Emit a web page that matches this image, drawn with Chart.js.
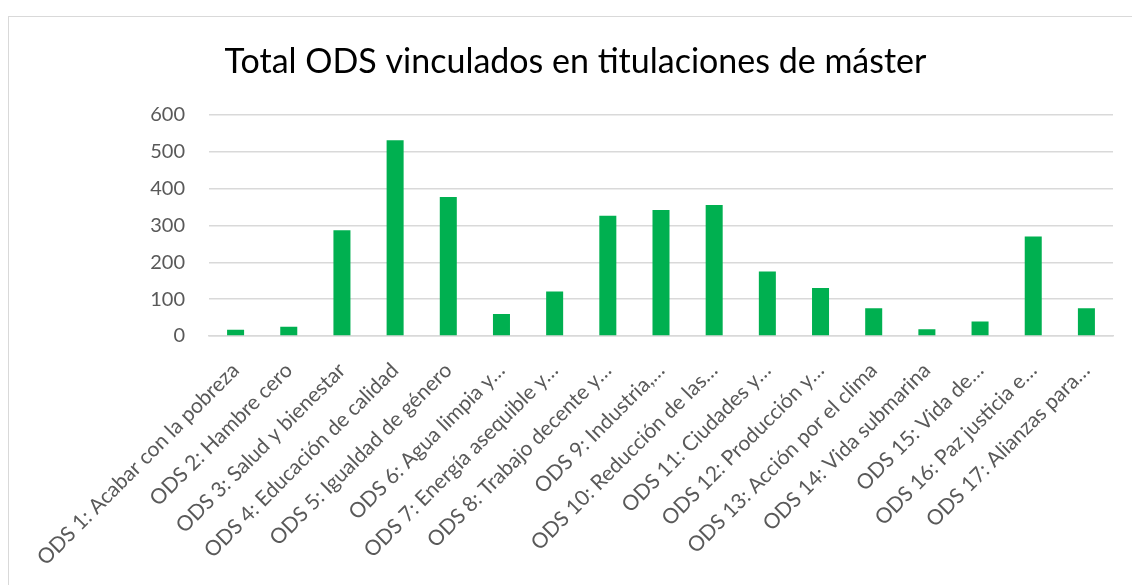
<!DOCTYPE html>
<html>
<head>
<meta charset="utf-8">
<script src="https://cdn.jsdelivr.net/npm/chart.js@4"></script>
<style>
  html, body { margin: 0; padding: 0; background: #fff; overflow: hidden; }
  #marco { position: absolute; left: 8px; top: 16px; width: 2000px; height: 2000px; border: 1px solid #d9d9d9; }
  #lienzo { position: absolute; left: 0; top: 0; width: 1132px; height: 585px; }
</style>
</head>
<body>
<div id="marco"></div>
<div id="lienzo"><canvas id="grafico" width="1132" height="585"></canvas></div>
<script>
const categorias = [
    "ODS 1: Acabar con la pobreza",
    "ODS 2: Hambre cero",
    "ODS 3: Salud y bienestar",
    "ODS 4: Educación de calidad",
    "ODS 5: Igualdad de género",
    "ODS 6: Agua limpia y…",
    "ODS 7: Energía asequible y…",
    "ODS 8: Trabajo decente y…",
    "ODS 9: Industria,…",
    "ODS 10: Reducción de las…",
    "ODS 11: Ciudades y…",
    "ODS 12: Producción y…",
    "ODS 13: Acción por el clima",
    "ODS 14: Vida submarina",
    "ODS 15: Vida de…",
    "ODS 16: Paz justicia e…",
    "ODS 17: Alianzas para…"];
const totales = [17, 25, 287, 531, 377, 60, 121, 326, 342, 355, 175, 130, 75, 18, 39, 270, 75];
const marcasY = [0, 100, 200, 300, 400, 500, 600];

const gris = '#595959';
const fuente = 'Lato, "Open Sans", sans-serif';

document.addEventListener('DOMContentLoaded', function() {
    const ctx = document.getElementById('grafico').getContext('2d');
    new Chart(ctx, {
        type: 'bar',
        data: {
            labels: categorias,
            datasets: [{
                label: 'Total',
                data: totales,
                backgroundColor: '#00B050',
                borderWidth: 0,
                categoryPercentage: 1,
                barPercentage: 0.32
            }]
        },
        options: {
            responsive: false,
            animation: false,
            layout: { padding: { left: 38, right: 19, top: 0, bottom: 0 } },
            plugins: {
                legend: { display: false },
                tooltip: { enabled: false },
                title: {
                    display: true,
                    text: 'Total ODS vinculados en titulaciones de máster',
                    color: '#000',
                    font: { family: fuente, size: 34, weight: 'normal' },
                    padding: { top: 42, bottom: 32 }
                }
            },
            scales: {
                x: {
                    grid: { display: false },
                    border: { color: '#d9d9d9', width: 1.5 },
                    ticks: {
                        color: gris,
                        font: { family: fuente, size: 21 },
                        autoSkip: false,
                        maxRotation: 45,
                        minRotation: 45,
                        padding: 14,
                        labelOffset: 0
                    },
                    afterFit: function(scale) { scale.height = 249; }
                },
                y: {
                    min: 0,
                    max: 600,
                    afterBuildTicks: function(scale) {
                        scale.ticks = marcasY.map(v => ({ value: v }));
                    },
                    grid: { color: '#d9d9d9', lineWidth: 1.5, drawTicks: false },
                    border: { display: false },
                    ticks: {
                        color: gris,
                        font: { family: fuente, size: 20 },
                        padding: 24
                    },
                    afterFit: function(scale) { scale.width = 171; }
                }
            }
        }
    });
});
</script>
</body>
</html>
